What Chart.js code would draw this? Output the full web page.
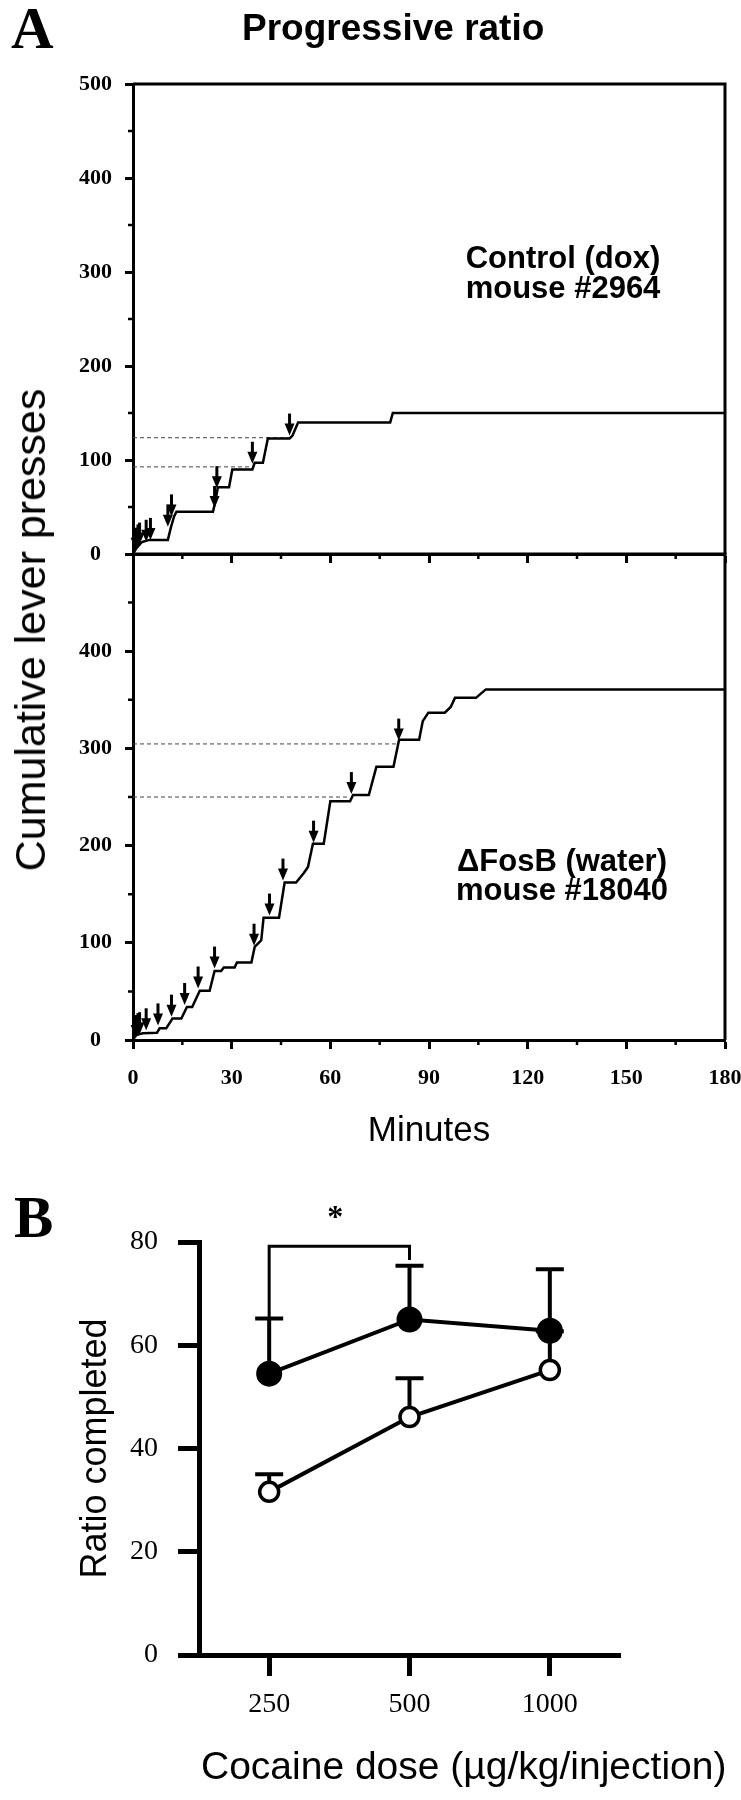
<!DOCTYPE html>
<html>
<head>
  <meta charset="utf-8" />
  <title>Progressive ratio</title>
  <script src="https://cdn.jsdelivr.net/npm/chart.js@4.4.1/dist/chart.umd.min.js"></script>
  <style>
    body {
      margin: 0;
      background: #fff;
    }
    #fig {
      position: relative;
      width: 741px;
      height: 1800px;
      overflow: hidden;
      font-family: "Liberation Sans", Arial, sans-serif;
      color: #000;
    }
    #fig canvas {
      position: absolute;
      left: 0;
    }
    .txt {
      position: absolute;
      white-space: nowrap;
      line-height: 1;
    }
    .panel {
      font-family: "Liberation Serif", "Times New Roman", serif;
      font-weight: bold;
      font-size: 59px;
    }
    .note {
      font-weight: bold;
      font-size: 31px;
      text-align: center;
      width: 320px;
    }
  </style>
</head>
<body>
  <div id="fig">
    <canvas id="ctrlChart" width="741" height="580" style="top:0"></canvas>
    <canvas id="fosbChart" width="741" height="612" style="top:540px"></canvas>
    <canvas id="doseChart" width="741" height="620" style="top:1180px"></canvas>

    <div class="txt panel" style="left:11px; top:-1px">A</div>
    <div class="txt" style="left:242px; top:9px; font-weight:bold; font-size:37px">Progressive ratio</div>
    <div class="txt" style="left:9px; top:630px; font-size:43px; transform-origin:0 0; transform:rotate(-90deg) translate(-50%,0)">Cumulative lever presses</div>
    <div class="txt note" style="left:403px; top:243px; line-height:30px">Control (dox)<br>mouse #2964</div>
    <div class="txt note" style="left:402px; top:846px; line-height:29px">ΔFosB (water)<br>mouse #18040</div>
    <div class="txt panel" style="left:14px; top:1188px">B</div>
    <div class="txt" style="left:201px; top:1746px; font-size:39px">Cocaine dose (µg/kg/injection)</div>
  </div>

  <script>
    // Panel A: cumulative lever presses over the session (minutes, presses)
    const ctrlMinutes = [0, 0.5, 1, 1.5, 2, 2.5, 3, 4, 5, 10.6, 11.5, 12.5, 13.2, 24.3, 25, 25.8, 29.2, 30.2, 36.3, 37, 39.5, 41, 47.6, 48.5, 50.2, 78.2, 79, 180];
    const ctrlPresses = [0, 3, 6, 8, 10, 12, 13, 14, 15, 15, 28, 40, 45, 45, 55, 71, 71, 90, 90, 97, 97, 123, 123, 126, 140, 140, 150, 150];

    const fosbMinutes = [0, 0.5, 1, 2, 3, 7.3, 8.1, 10.1, 12, 14.7, 16.4, 18, 20.3, 23.3, 24.8, 26.8, 27.6, 30.9, 31.6, 36, 37, 39, 39.7, 44.4, 46.1, 49.6, 52, 53.2, 54.7, 58, 60, 66, 66.9, 71.7, 74, 79.2, 80.9, 87, 88.1, 89.8, 94.8, 96.6, 97.9, 104.3, 105.5, 107.3, 180];
    const fosbPresses = [0, 3, 5, 6, 7, 7.5, 12, 12, 22, 22, 34, 34, 50.6, 50.6, 71, 71, 74.5, 74.5, 79.7, 79.7, 95.7, 102.6, 125.8, 125.8, 162, 162, 172, 178, 202, 202, 245.5, 245.5, 252, 252, 281, 281, 309, 309, 328, 336.8, 336.8, 342.6, 352, 352, 355.6, 360.7, 360.7];

    // infusion arrows (minute, presses at arrow tip)
    const ctrlArrowMinutes = [0.8, 1.5, 2, 4, 5.3, 10.6, 11.7, 24.8, 25.5, 36.3, 47.6];
    const ctrlArrowPresses = [4.6, 8, 10, 13, 15, 29, 40, 49, 70, 96, 126];
    const fosbArrowMinutes = [0.8, 1.5, 2, 4, 7.6, 11.7, 15.7, 19.8, 24.8, 36.8, 41.5, 45.6, 54.9, 66.4, 80.8];
    const fosbArrowPresses = [3, 5, 6, 10, 15, 24, 36, 53, 73.5, 97, 128, 164, 203, 253, 308];

    // dashed criterion lines (level, minute where they stop)
    const ctrlDashPresses = [123.7, 92.7];
    const ctrlDashMinutes = [47.6, 36.3];
    const fosbDashPresses = [304.6, 250];
    const fosbDashMinutes = [80.5, 66];

    const minorMinuteTicks = [15, 45, 75, 105, 135, 165];
    const minorPressTicks = [50, 150, 250, 350, 450];

    // Panel B: ratio completed per cocaine dose (mean, SEM)
    const doses = ['250', '500', '1000'];
    const fosbRatio = [54.5, 65, 62.8];
    const fosbSem = [10.7, 10.4, 11.9];
    const ctrlRatio = [31.6, 46.1, 55.2];
    const ctrlSem = [3.4, 7.5, 7.5];

    const serifBold = {family: '"Liberation Serif", "Times New Roman", serif', size: 22, weight: 'bold'};

    const frame = {
      id: 'frame',
      afterDraw(chart, args, o) {
        const {ctx, chartArea: a} = chart;
        ctx.save();
        ctx.strokeStyle = '#000';
        ctx.lineWidth = o.width;
        ctx.beginPath();
        ctx.moveTo(a.left, a.top);
        ctx.lineTo(a.right, a.top);
        ctx.lineTo(a.right, a.bottom);
        ctx.stroke();
        ctx.restore();
      }
    };

    const minorTicks = {
      id: 'minorTicks',
      afterDraw(chart, args, o) {
        const {ctx} = chart;
        const x = chart.scales.x, y = chart.scales.y;
        ctx.save();
        ctx.strokeStyle = '#000';
        ctx.lineWidth = 2.5;
        ctx.beginPath();
        o.x.forEach(v => {
          const px = x.getPixelForValue(v);
          ctx.moveTo(px, y.bottom);
          ctx.lineTo(px, y.bottom + o.len);
        });
        o.y.forEach(v => {
          const py = y.getPixelForValue(v);
          ctx.moveTo(x.left, py);
          ctx.lineTo(x.left - o.len, py);
        });
        ctx.stroke();
        ctx.restore();
      }
    };

    const arrows = {
      id: 'arrows',
      afterDatasetsDraw(chart, args, o) {
        const {ctx} = chart;
        const x = chart.scales.x, y = chart.scales.y;
        ctx.save();
        ctx.fillStyle = '#000';
        ctx.strokeStyle = '#000';
        ctx.lineWidth = 3;
        o.minutes.forEach((m, i) => {
          const px = x.getPixelForValue(m);
          const py = y.getPixelForValue(o.presses[i]);
          ctx.beginPath();
          ctx.moveTo(px, py - 22);
          ctx.lineTo(px, py - 8);
          ctx.stroke();
          ctx.beginPath();
          ctx.moveTo(px - 5, py - 12);
          ctx.lineTo(px + 5, py - 12);
          ctx.lineTo(px, py);
          ctx.closePath();
          ctx.fill();
        });
        ctx.restore();
      }
    };

    // keep the plot frame fixed: no extra room for overhanging edge labels
    const fixedScale = (size, vertical) => s => {
      if (vertical) s.width = size; else s.height = size;
      s.paddingLeft = 0;
      s.paddingRight = 0;
      s.paddingTop = 0;
      s.paddingBottom = 0;
    };

    function cumulativeChart(id, label, minutes, presses, dashMinutes, dashPresses, arrowMinutes, arrowPresses, bottomPanel) {
      const datasets = [{
        label: label,
        data: minutes.map((m, i) => ({x: m, y: presses[i]})),
        borderColor: '#000',
        borderWidth: 2.5,
        pointRadius: 0,
        tension: 0
      }];
      dashPresses.forEach((v, i) => {
        datasets.push({
          label: 'criterion',
          data: [{x: 0, y: v}, {x: dashMinutes[i], y: v}],
          borderColor: '#444',
          borderWidth: 1,
          borderDash: [4, 3],
          pointRadius: 0
        });
      });

      return new Chart(document.getElementById(id), {
        type: 'line',
        data: {datasets},
        options: {
          responsive: false,
          animation: false,
          events: [],
          layout: {padding: {top: bottomPanel ? 14 : 84, right: 16, left: 0, bottom: 0}},
          plugins: {
            legend: {display: false},
            tooltip: {enabled: false},
            frame: {width: 3},
            minorTicks: {x: minorMinuteTicks, y: minorPressTicks, len: 5},
            arrows: {minutes: arrowMinutes, presses: arrowPresses}
          },
          scales: {
            x: {
              type: 'linear',
              min: 0,
              max: 180,
              ticks: {stepSize: 30, display: bottomPanel, color: '#000', font: serifBold, padding: 16, maxRotation: 0},
              grid: {drawOnChartArea: false, tickLength: 9, tickWidth: 3, color: '#000'},
              border: {width: 3, color: '#000'},
              title: {
                display: bottomPanel,
                text: 'Minutes',
                color: '#000',
                font: {family: '"Liberation Sans", Arial, sans-serif', size: 35},
                padding: {top: 0, bottom: 0}
              },
              afterFit: fixedScale(bottomPanel ? 112 : 26, false)
            },
            y: {
              min: 0,
              max: 500,
              ticks: {
                stepSize: 100,
                color: '#000',
                font: serifBold,
                padding: 13,
                crossAlign: 'center',
                callback: v => (bottomPanel && v === 500) ? '' : v
              },
              grid: {drawOnChartArea: false, tickLength: 8, tickWidth: 3, color: '#000'},
              border: {width: 3, color: '#000'},
              afterFit: fixedScale(133, true)
            }
          }
        },
        plugins: [frame, minorTicks, arrows]
      });
    }

    cumulativeChart('ctrlChart', 'Control (dox) mouse #2964', ctrlMinutes, ctrlPresses,
      ctrlDashMinutes, ctrlDashPresses, ctrlArrowMinutes, ctrlArrowPresses, false);
    cumulativeChart('fosbChart', 'ΔFosB (water) mouse #18040', fosbMinutes, fosbPresses,
      fosbDashMinutes, fosbDashPresses, fosbArrowMinutes, fosbArrowPresses, true);

    // error bars (upward only) drawn under the markers
    const errorBars = {
      id: 'errorBars',
      beforeDatasetsDraw(chart) {
        const {ctx} = chart;
        const y = chart.scales.y;
        ctx.save();
        ctx.strokeStyle = '#000';
        ctx.lineWidth = 4;
        chart.data.datasets.forEach((ds, di) => {
          const meta = chart.getDatasetMeta(di);
          meta.data.forEach((pt, i) => {
            const top = y.getPixelForValue(ds.data[i] + ds.sem[i]);
            ctx.beginPath();
            ctx.moveTo(pt.x, pt.y);
            ctx.lineTo(pt.x, top);
            ctx.moveTo(pt.x - 14, top);
            ctx.lineTo(pt.x + 14, top);
            ctx.stroke();
          });
        });
        ctx.restore();
      }
    };

    const bracket = {
      id: 'bracket',
      afterDraw(chart, args, o) {
        const {ctx} = chart;
        const x = chart.scales.x, y = chart.scales.y;
        const x1 = x.getPixelForValue(o.from);
        const x2 = x.getPixelForValue(o.to);
        const top = y.getPixelForValue(o.level);
        ctx.save();
        ctx.strokeStyle = '#000';
        ctx.lineWidth = 3;
        ctx.beginPath();
        ctx.moveTo(x1, y.getPixelForValue(o.leftEnd));
        ctx.lineTo(x1, top);
        ctx.lineTo(x2, top);
        ctx.lineTo(x2, y.getPixelForValue(o.rightEnd));
        ctx.stroke();
        ctx.fillStyle = '#000';
        ctx.font = 'bold 32px "Liberation Serif", serif';
        ctx.textAlign = 'center';
        ctx.textBaseline = 'middle';
        ctx.fillText(o.text, (x1 + x2) / 2 - 4, y.getPixelForValue(o.textLevel));
        ctx.restore();
      }
    };

    const serifTicks = {family: '"Liberation Serif", "Times New Roman", serif', size: 28};

    new Chart(document.getElementById('doseChart'), {
      type: 'line',
      data: {
        labels: doses,
        datasets: [{
          label: 'ΔFosB (water)',
          data: fosbRatio,
          sem: fosbSem,
          borderColor: '#000',
          borderWidth: 4,
          pointRadius: 12,
          pointBorderWidth: 2,
          pointBackgroundColor: '#000',
          pointBorderColor: '#000',
          tension: 0
        }, {
          label: 'Control (dox)',
          data: ctrlRatio,
          sem: ctrlSem,
          borderColor: '#000',
          borderWidth: 4,
          pointRadius: 9.5,
          pointBorderWidth: 3.5,
          pointBackgroundColor: '#fff',
          pointBorderColor: '#000',
          tension: 0
        }]
      },
      options: {
        responsive: false,
        animation: false,
        events: [],
        layout: {padding: {top: 62, right: 121, left: 0, bottom: 0}},
        plugins: {
          legend: {display: false},
          tooltip: {enabled: false},
          bracket: {from: 0, to: 1, level: 79.2, leftEnd: 65.2, rightEnd: 76.5, text: '*', textLevel: 84.5}
        },
        scales: {
          x: {
            type: 'category',
            offset: true,
            ticks: {color: '#000', font: serifTicks, padding: 12},
            grid: {drawOnChartArea: false, offset: false, tickLength: 21, tickWidth: 5, color: '#000'},
            border: {width: 5, color: '#000'},
            afterFit: fixedScale(145, false)
          },
          y: {
            min: 0,
            max: 80,
            ticks: {stepSize: 20, color: '#000', font: serifTicks, padding: 20},
            grid: {drawOnChartArea: false, tickLength: 21, tickWidth: 5, color: '#000'},
            border: {width: 5, color: '#000'},
            title: {
              display: true,
              text: 'Ratio completed',
              color: '#000',
              font: {family: '"Liberation Sans", Arial, sans-serif', size: 36},
              padding: {top: 74, bottom: 0}
            },
            afterFit: fixedScale(199, true)
          }
        }
      },
      plugins: [errorBars, bracket]
    });
  </script>
</body>
</html>
